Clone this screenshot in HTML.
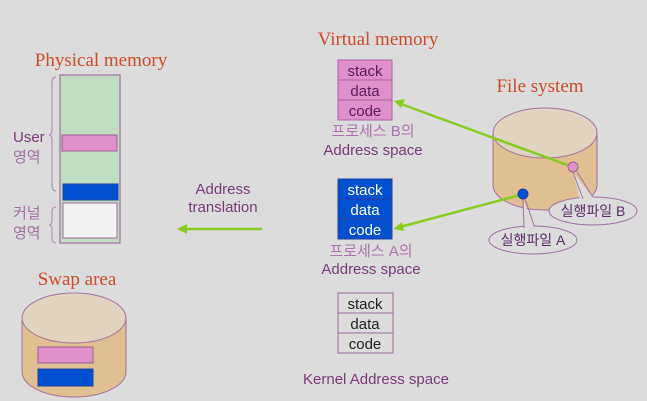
<!DOCTYPE html>
<html><head><meta charset="utf-8"><style>
html,body{margin:0;padding:0;background:#dcdcdc;}
svg{display:block;}
.t{font-family:"Liberation Serif",serif;fill:#d04a28;font-size:19px;}
.s{font-family:"Liberation Sans","Noto Sans CJK KR",sans-serif;}
</style></head><body>
<svg width="647" height="401" viewBox="0 0 647 401">
<rect width="647" height="401" fill="#dcdcdc"/>
<text class="t" x="101" y="66" text-anchor="middle">Physical memory</text>
<rect x="60" y="75" width="60" height="168" fill="#c2dcc2" stroke="#a070a0" stroke-width="1.2"/>
<rect x="62" y="135" width="55" height="16" fill="#e090c8" stroke="#9a6090"/>
<rect x="63" y="184" width="55" height="16" fill="#0050d0" stroke="#2040a0"/>
<rect x="63" y="203" width="54" height="35" fill="#f2f2f2" stroke="#9a6a9a"/>
<path d="M56,77 q-4,0 -4,6 v46 q0,6 -3,6 q3,0 3,6 v44 q0,6 4,6" fill="none" stroke="#b080b0" stroke-width="1"/>
<path d="M56,207 q-4,0 -4,5 v8 q0,5 -3,5 q3,0 3,5 v8 q0,5 4,5" fill="none" stroke="#b080b0" stroke-width="1"/>
<g class="s" font-size="15" fill="#7a3a7a">
<text x="13" y="142">User</text>
<text x="13" y="162" fill="#a070a0">영역</text>
<text x="13" y="218" fill="#a070a0">커널</text>
<text x="13" y="238" fill="#a070a0">영역</text>
</g>
<text class="t" x="77" y="285" text-anchor="middle">Swap area</text>
<path d="M22,318 v54 a52,25 0 0 0 104,0 v-54" fill="#e0c092" stroke="#a070a0"/>
<ellipse cx="74" cy="318" rx="52" ry="25" fill="#e0d4c0" stroke="#a070a0"/>
<rect x="38" y="347" width="55" height="16" fill="#e090c8" stroke="#9a6090"/>
<rect x="38" y="369" width="55" height="17" fill="#0050d0" stroke="#2040a0"/>
<text class="t" x="378" y="45" text-anchor="middle">Virtual memory</text>
<g class="s" font-size="15" text-anchor="middle">
<rect x="338" y="60" width="54" height="60" fill="#e090c8" stroke="#b060a0"/>
<line x1="338" y1="80" x2="392" y2="80" stroke="#b060a0"/><line x1="338" y1="100" x2="392" y2="100" stroke="#b060a0"/>
<text x="365" y="76" fill="#5a1a5a">stack</text><text x="365" y="96" fill="#5a1a5a">data</text><text x="365" y="116" fill="#5a1a5a">code</text>
<text x="373" y="136" fill="#b070b0">프로세스 B의</text>
<text x="373" y="155" fill="#7a3a7a">Address space</text>
<rect x="338" y="179" width="54" height="60" fill="#0050d0" stroke="#2040a0"/>
<line x1="338" y1="199" x2="392" y2="199" stroke="#2040a0"/><line x1="338" y1="219" x2="392" y2="219" stroke="#2040a0"/>
<text x="365" y="195" fill="#fff">stack</text><text x="365" y="215" fill="#fff">data</text><text x="365" y="235" fill="#fff">code</text>
<text x="371" y="256" fill="#b070b0">프로세스 A의</text>
<text x="371" y="274" fill="#7a3a7a">Address space</text>
<rect x="338" y="293" width="55" height="60" fill="none" stroke="#9a6a9a"/>
<line x1="338" y1="313" x2="393" y2="313" stroke="#9a6a9a"/><line x1="338" y1="333" x2="393" y2="333" stroke="#9a6a9a"/>
<text x="365" y="309" fill="#222">stack</text><text x="365" y="329" fill="#222">data</text><text x="365" y="349" fill="#222">code</text>
<text x="376" y="384" fill="#7a3a7a">Kernel Address space</text>
<text x="223" y="194" fill="#7a3a7a">Address</text>
<text x="223" y="212" fill="#7a3a7a">translation</text>
</g>
<line x1="262" y1="229" x2="184" y2="229" stroke="#88cc22" stroke-width="2.5"/>
<polygon points="177,229 187,224 187,234" fill="#88cc22"/>
<text class="t" x="540" y="92" text-anchor="middle">File system</text>
<path d="M493,133 v52 a52,25 0 0 0 104,0 v-52" fill="#e0c092" stroke="#a070a0"/>
<ellipse cx="545" cy="133" rx="52" ry="25" fill="#e0d4c0" stroke="#a070a0"/>
<line x1="570" y1="166" x2="401" y2="104" stroke="#88cc22" stroke-width="2.5"/>
<polygon points="394,101 405,99 401,108" fill="#88cc22"/>
<line x1="520" y1="195" x2="400" y2="227" stroke="#88cc22" stroke-width="2.5"/>
<polygon points="393,229 402,222 404,231" fill="#88cc22"/>
<path d="M577,172 L594,199" stroke="#a070a0" fill="none"/>
<ellipse cx="593" cy="211" rx="44" ry="14" fill="#dcdcdc" stroke="#a070a0"/>
<path d="M573,172 L580,199 L594,199 Z" fill="#dcdcdc"/>
<path d="M573,172 L583,199" stroke="#a070a0" fill="none"/>
<path d="M525,199 L535,228" stroke="#a070a0" fill="none"/>
<ellipse cx="533" cy="240" rx="44" ry="14" fill="#dcdcdc" stroke="#a070a0"/>
<path d="M523,199 L524,228 L534,228 Z" fill="#dcdcdc"/>
<path d="M523,199 L524,228" stroke="#a070a0" fill="none"/>
<circle cx="573" cy="167" r="5" fill="#e090c8" stroke="#9a6090"/>
<circle cx="523" cy="194" r="5" fill="#0050d0" stroke="#2040a0"/>
<g class="s" font-size="14" fill="#5a2a6a" text-anchor="middle">
<text x="593" y="216">실행파일 B</text>
<text x="533" y="245">실행파일 A</text>
</g>
</svg>
</body></html>
